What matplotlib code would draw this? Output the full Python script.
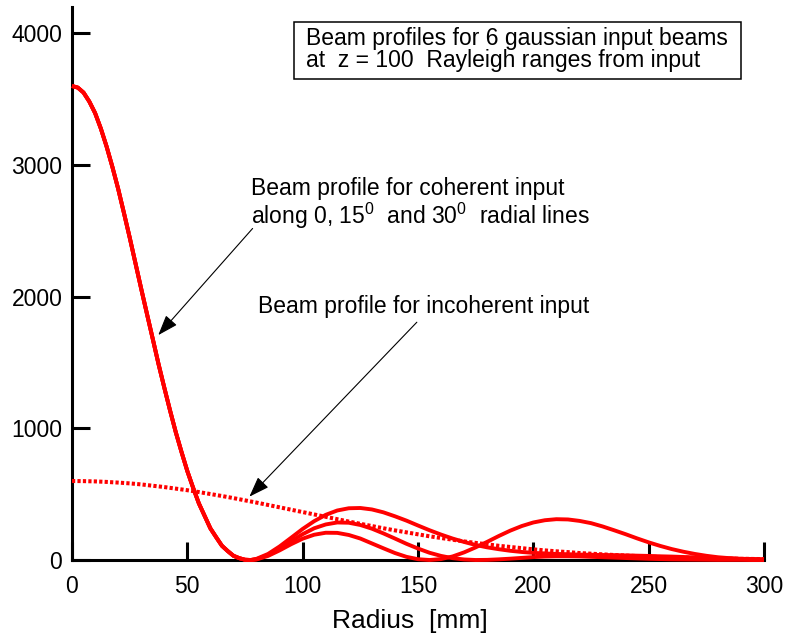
import numpy as np
import matplotlib
matplotlib.use("Agg")
import matplotlib.pyplot as plt
from matplotlib.patches import Rectangle

plt.rcParams['font.family'] = ['Liberation Sans', 'DejaVu Sans']
plt.rcParams['mathtext.fontset'] = 'custom'
plt.rcParams['mathtext.rm'] = 'Liberation Sans'
plt.rcParams['mathtext.default'] = 'regular'

# radius grid [mm]: finer over the central lobe, coarser beyond
radius_core = np.arange(0, 80, 2.5)
radius_tail = np.arange(80, 301, 5)
radius = np.concatenate([radius_core, radius_tail])

# central lobe, common to the three radial lines (r = 0 .. 77.5)
main_lobe = [3600, 3588, 3550, 3482, 3395, 3277, 3140, 2986, 2820, 2637, 2450,
             2255, 2060, 1869, 1680, 1489, 1310, 1136, 970, 819, 675, 549, 430,
             335, 240, 173, 108, 68, 32, 14, 2, 0]

# coherent profiles beyond the first zero (r = 80 .. 300)
tail_0deg = [9, 46, 103, 169, 236, 295, 343, 376, 393, 395, 384, 362, 332, 299,
             262, 226, 193, 163, 137, 114, 96, 82, 70, 61, 54, 50, 46, 44, 41,
             40, 38, 37, 35, 33, 31, 28, 26, 23, 20, 17, 14, 12, 9, 8, 6]
tail_15deg = [6, 38, 87, 143, 196, 241, 270, 285, 283, 266, 238, 202, 163, 123,
              87, 55, 31, 14, 4, 0, 1, 5, 10, 16, 22, 26, 28, 28, 27, 24, 21,
              18, 15, 12, 9, 7, 5, 4, 3, 2, 1, 1, 1, 0, 0]
tail_30deg = [4, 31, 73, 120, 162, 192, 207, 206, 190, 163, 126, 89, 53, 24, 6,
              0, 7, 27, 58, 96, 138, 182, 223, 258, 285, 302, 310, 308, 297,
              280, 255, 226, 196, 164, 134, 107, 83, 63, 46, 32, 21, 14, 8, 4, 2]

# incoherent sum (r = 0 .. 300, step 5)
radius_inc = np.arange(0, 301, 5)
incoherent = [600, 599, 597, 593, 588, 582, 574, 564, 554, 542, 530, 516, 501,
              486, 470, 453, 436, 418, 400, 382, 364, 346, 328, 310, 292, 275,
              258, 241, 225, 210, 195, 180, 167, 154, 141, 130, 119, 108, 99,
              90, 81, 73, 66, 60, 53, 48, 43, 38, 34, 30, 26, 23, 20, 18, 16,
              14, 12, 10, 9, 8, 7]

fig = plt.figure(figsize=(7.86, 6.39), dpi=100)
ax = fig.add_axes([72/786, 1-560/639, 692/786, 553/639])

red = '#ff0000'
for tail in (tail_0deg, tail_15deg, tail_30deg):
    ax.plot(radius, main_lobe + tail, color=red, lw=2.8, solid_capstyle='butt',
            solid_joinstyle='round', zorder=3, clip_on=False)
ax.plot(radius_inc, incoherent, color=red, lw=2.9, ls=(0, (0.8, 0.55)),
        zorder=3, clip_on=False)

ax.set_xlim(0, 300)
ax.set_ylim(0, 4200)
ax.set_xticks(range(0, 301, 50))
ax.set_yticks(range(0, 4001, 1000))
for s in ('top', 'right'):
    ax.spines[s].set_visible(False)
for s in ('left', 'bottom'):
    ax.spines[s].set_linewidth(2.2)
ax.tick_params(axis='both', direction='in', length=13, width=2.2, labelsize=16.5)
ax.tick_params(axis='x', pad=11)
ax.tick_params(axis='y', pad=7)
ax.set_xlabel('Radius  [mm]', fontsize=19)
ax.xaxis.set_label_coords(0.488, -0.088)

# title box
ax.add_patch(Rectangle((96.2, 3656), 193.8, 430, fill=False, lw=1.1,
                       ec='black', clip_on=False))
ax.text(101.4, 3914, 'Beam profiles for 6 gaussian input beams', fontsize=16.5,
        va='baseline')
ax.text(101.4, 3744, 'at  z = 100  Rayleigh ranges from input', fontsize=16.5,
        va='baseline')

# annotations
ax.text(77.5, 2770, 'Beam profile for coherent input', fontsize=16.5,
        va='baseline')
ax.text(77.5, 2555, 'along 0, 15$^0$  and 30$^0$  radial lines', fontsize=16.5,
        va='baseline')
ax.text(80.8, 1877, 'Beam profile for incoherent input', fontsize=16.5,
        va='baseline')

arrow = dict(arrowstyle='-|>,head_length=0.7,head_width=0.25', lw=0.8,
             color='black', shrinkA=0, shrinkB=0, mutation_scale=18)
ax.annotate('', xy=(37.4, 1708), xytext=(78.3, 2518), arrowprops=arrow)
ax.annotate('', xy=(76.9, 481), xytext=(149.5, 1806), arrowprops=arrow)

fig.savefig('out.png', dpi=100)
